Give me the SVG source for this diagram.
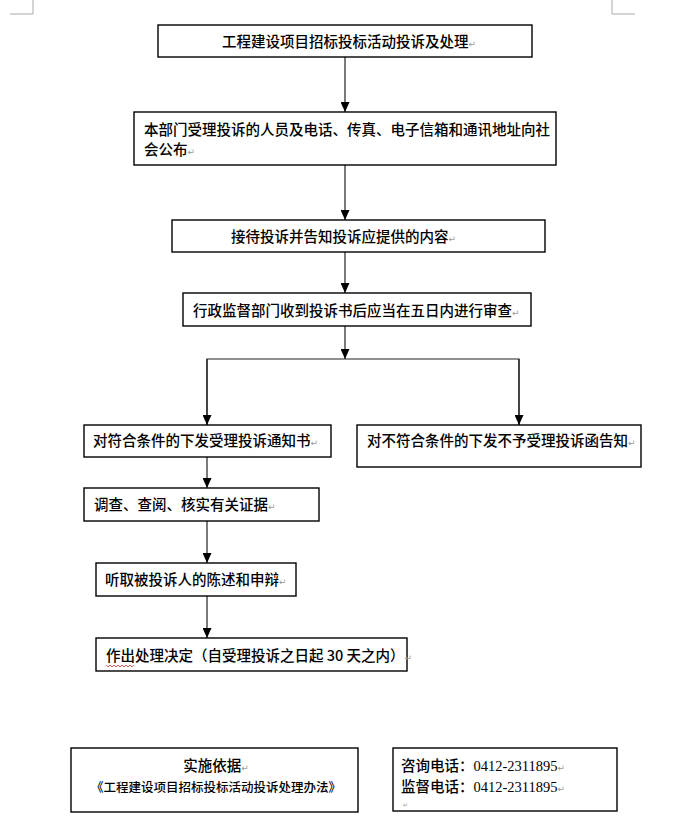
<svg xmlns="http://www.w3.org/2000/svg" width="700" height="834" viewBox="0 0 700 834">
<style>
.box{fill:#fff;stroke:#000;stroke-width:1.4}
.t{font-family:"Noto Sans CJK SC","Noto Sans CJK JP",sans-serif;font-size:14.5px;font-weight:500;fill:#000}
.s{font-family:"Liberation Serif",serif;font-weight:400}
.pm{font-family:"DejaVu Sans",sans-serif;font-size:9px;font-weight:400;fill:#999}
.c{stroke:#222;stroke-width:1.2;fill:none}
.mark{stroke:#aaa;stroke-width:1;fill:none}
</style>
<defs>
<marker id="ad" markerUnits="userSpaceOnUse" markerWidth="9" markerHeight="10" refX="4.5" refY="10" viewBox="0 0 9 10" orient="0">
<path d="M0,0 L9,0 L4.5,10 Z" fill="#000"/>
</marker>
</defs>
<rect width="700" height="834" fill="#fff"/>
<g id="corners">
<path class="mark" d="M10,14 H33 V0"/>
<path class="mark" d="M635,14 H612 V0"/>
</g>
<g id="connectors">
<line class="c" x1="345" y1="57" x2="345" y2="112" marker-end="url(#ad)"/>
<line class="c" x1="345" y1="165" x2="345" y2="220" marker-end="url(#ad)"/>
<line class="c" x1="345" y1="252" x2="345" y2="293" marker-end="url(#ad)"/>
<line class="c" x1="345" y1="326" x2="345" y2="359" marker-end="url(#ad)"/>
<polyline class="c" points="207,425 207,359 519,359 519,425"/>
<line class="c" x1="207" y1="359" x2="207" y2="425" marker-end="url(#ad)"/>
<line class="c" x1="519" y1="359" x2="519" y2="425" marker-end="url(#ad)"/>
<line class="c" x1="207" y1="457" x2="207" y2="488" marker-end="url(#ad)"/>
<line class="c" x1="207" y1="521" x2="207" y2="563" marker-end="url(#ad)"/>
<line class="c" x1="207" y1="596" x2="207" y2="638" marker-end="url(#ad)"/>
</g>
<g id="n1">
<rect class="box" x="158" y="25" width="374" height="32"/>
<text class="t" x="222" y="47">工程建设项目招标投标活动投诉及处理<tspan class="pm">↵</tspan></text>
</g>
<g id="n2">
<rect class="box" x="134" y="112" width="422" height="53"/>
<text class="t" x="144" y="135">本部门受理投诉的人员及电话、传真、电子信箱和通讯地址向社</text>
<text class="t" x="144" y="155">会公布<tspan class="pm">↵</tspan></text>
</g>
<g id="n3">
<rect class="box" x="172" y="220" width="373" height="32"/>
<text class="t" x="231" y="242">接待投诉并告知投诉应提供的内容<tspan class="pm">↵</tspan></text>
</g>
<g id="n4">
<rect class="box" x="183" y="293" width="348" height="33"/>
<text class="t" x="193" y="316">行政监督部门收到投诉书后应当在五日内进行审查<tspan class="pm">↵</tspan></text>
</g>
<g id="n5">
<rect class="box" x="84" y="425" width="247" height="32"/>
<text class="t" x="93" y="446">对符合条件的下发受理投诉通知书<tspan class="pm">↵</tspan></text>
</g>
<g id="n6">
<rect class="box" x="357" y="425" width="284" height="42"/>
<text class="t" x="367" y="446">对不符合条件的下发不予受理投诉函告知<tspan class="pm">↵</tspan></text>
</g>
<g id="n7">
<rect class="box" x="84" y="488" width="235" height="33"/>
<text class="t" x="94" y="510">调查、查阅、核实有关证据<tspan class="pm">↵</tspan></text>
</g>
<g id="n8">
<rect class="box" x="96" y="563" width="200" height="33"/>
<text class="t" x="105" y="585">听取被投诉人的陈述和申辩<tspan class="pm">↵</tspan></text>
</g>
<g id="n9">
<rect class="box" x="96" y="638" width="311" height="33"/>
<text class="t" x="106" y="661">作出处理决定（自受理投诉之日起 30 天之内）<tspan class="pm">↵</tspan></text>
<path d="M106,665 l2,2 l2,-2 l2,2 l2,-2 l2,2 l2,-2 l2,2 l2,-2 l2,2 l2,-2 l2,2 l2,-2 l2,2 l2,-2" stroke="#d33" stroke-width="0.8" fill="none"/>
</g>
<g id="n10">
<rect class="box" x="71" y="748" width="287" height="64"/>
<text class="t" x="216" y="771" text-anchor="middle">实施依据<tspan class="pm">↵</tspan></text>
<text class="t" x="216" y="792" text-anchor="middle" style="font-size:12.5px">《工程建设项目招标投标活动投诉处理办法》</text>
</g>
<g id="n11">
<rect class="box" x="393" y="748" width="224" height="63"/>
<text class="t" x="401" y="771">咨询电话：<tspan class="s">0412-2311895</tspan><tspan class="pm">↵</tspan></text>
<text class="t" x="401" y="792">监督电话：<tspan class="s">0412-2311895</tspan><tspan class="pm">↵</tspan></text>
<text class="pm" x="403" y="807" style="font-size:6px">↵</text>
</g>
</svg>
